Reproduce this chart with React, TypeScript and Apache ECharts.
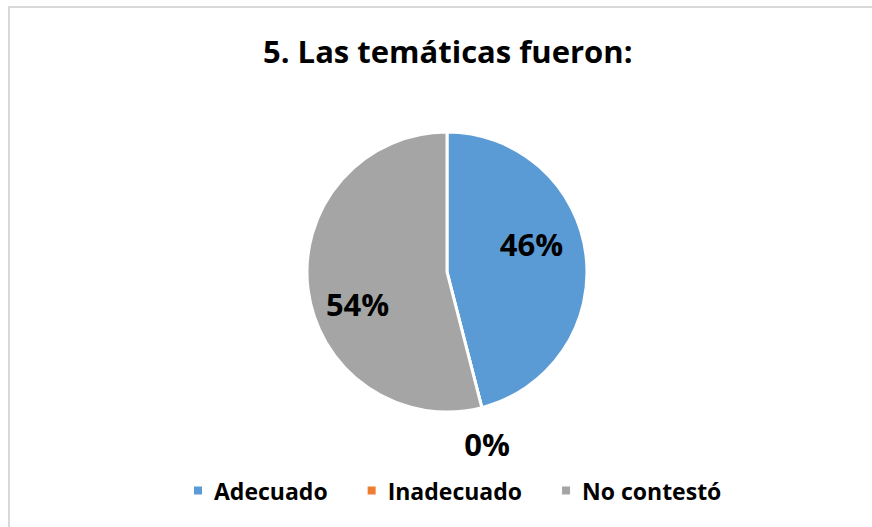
import React, { useEffect, useRef } from "react";
import * as echarts from "echarts";

const titleText = "5. Las temáticas fueron:";
const categories = ["Adecuado", "Inadecuado", "No contestó"];
const values = [46, 0, 54];
const colors = ["#5B9BD5", "#ED7D31", "#A5A5A5"];
const labelOffsets: [number, number][] = [
  [12, -19],
  [22, 101],
  [-17, 23],
];

const FONT = "'Open Sans', 'Noto Sans', sans-serif";

export default function App() {
  const ref = useRef<HTMLDivElement>(null);
  useEffect(() => {
    if (!ref.current) return;
    const chart = echarts.init(ref.current, undefined, { renderer: "svg" });
    chart.setOption({
      animation: false,
      backgroundColor: "#FFFFFF",
      title: {
        text: titleText,
        left: 258,
        top: 30,
        textStyle: {
          fontFamily: FONT,
          fontWeight: "bold",
          fontSize: 31,
          color: "#000000",
        },
      },
      graphic: [
        {
          type: "rect",
          shape: { x: 9, y: 7, width: 900, height: 600 },
          style: { fill: "none", stroke: "#D9D9D9", lineWidth: 2 },
          silent: true,
        },
      ],
      legend: {
        left: 187,
        top: 474,
        icon: "rect",
        itemWidth: 10,
        itemHeight: 10,
        itemGap: 38,
        textStyle: {
          fontFamily: FONT,
          fontWeight: "bold",
          fontSize: 23,
          color: "#000000",
          padding: [0, 0, 0, 6],
        },
        data: categories,
      },
      series: [
        {
          type: "pie",
          center: [447, 272],
          radius: [0, 140],
          startAngle: 90,
          clockwise: true,
          percentPrecision: 0,
          itemStyle: { borderColor: "#FFFFFF", borderWidth: 3 },
          label: {
            show: true,
            position: "inside",
            formatter: "{d}%",
            fontFamily: FONT,
            fontWeight: "bold",
            fontSize: 31,
            color: "#000000",
          },
          labelLine: { show: false },
          emphasis: { disabled: true },
          data: categories.map((name, i) => ({
            name,
            value: values[i],
            itemStyle: { color: colors[i] },
            label: { offset: labelOffsets[i] },
          })),
        },
      ],
    });
    return () => chart.dispose();
  }, []);
  return (
    <div
      ref={ref}
      style={{ position: "fixed", left: 0, top: 0, width: 872, height: 527 }}
    />
  );
}
